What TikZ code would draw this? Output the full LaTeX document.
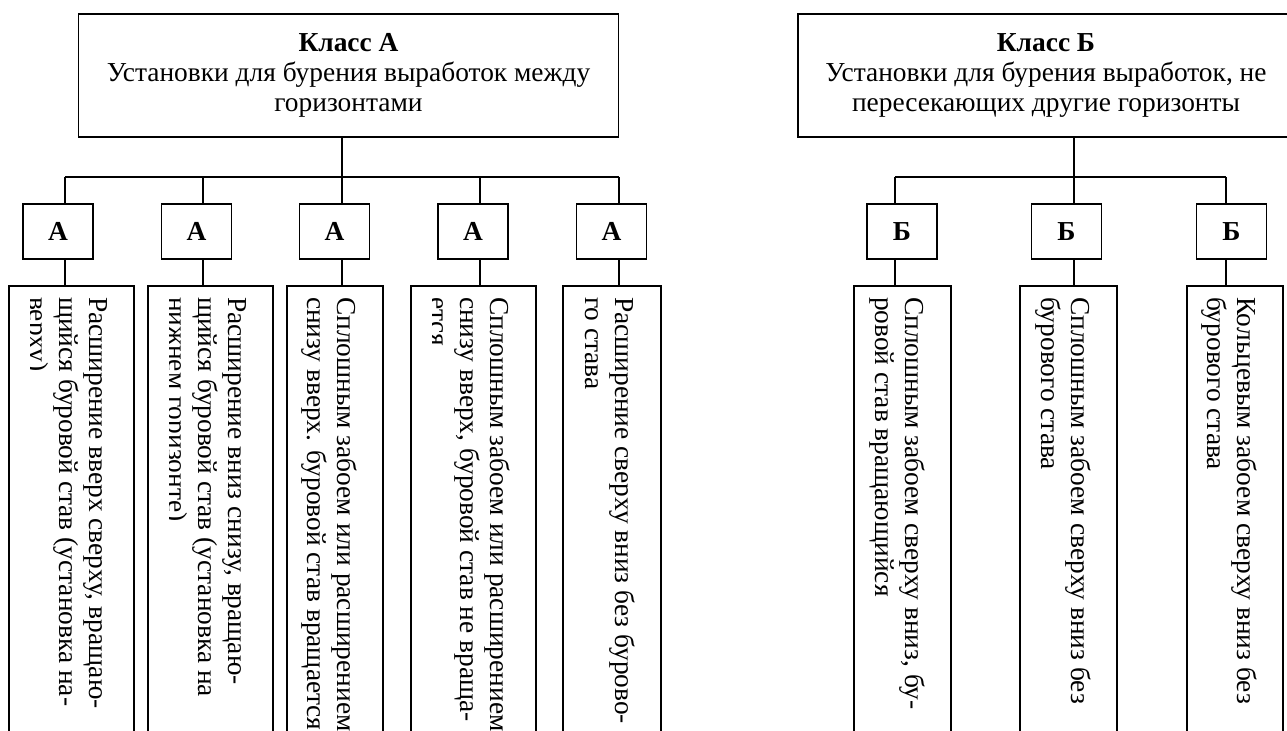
\documentclass[tikz,border=0pt]{standalone}
\usepackage{fontspec}
\setmainfont{Liberation Serif}
\newcommand{\drillfont}{\fontsize{15.6}{17.1}\selectfont}
\tikzset{classbox/.style={draw, line width=0.9pt, align=center, inner sep=0, font=\drillfont}}
\tikzset{subbox/.style={draw, line width=0.9pt, minimum width=1.4cm, minimum height=1.1cm, inner sep=0, font=\drillfont\bfseries}}
\tikzset{tallbox/.style={draw, line width=0.9pt, minimum height=9.6cm, inner sep=0}}
\tikzset{vtext/.style={rotate=-90, anchor=north west, align=left, inner sep=0, font=\drillfont}}
\tikzset{connect/.style={draw, line width=0.9pt}}

\begin{document}
\begin{tikzpicture}
\useasboundingbox (0,0) rectangle (25.74,-14.62);
\clip (0,0) rectangle (25.74,-14.62);

%class blocks
\node[classbox, minimum width=10.8cm, minimum height=2.45cm] (clA) at (6.97,-1.51) {\textbf{Класс А}\\Установки для бурения выработок между\\горизонтами};
\node[classbox, minimum width=9.92cm, minimum height=2.45cm] (clB) at (20.92,-1.51) {\textbf{Класс Б}\\Установки для бурения выработок, не\\пересекающих другие горизонты};

%bus points
\coordinate (a1) at (1.30,-3.54);
\coordinate (a2) at (4.06,-3.54);
\coordinate (a3) at (6.84,-3.54);
\coordinate (a4) at (9.60,-3.54);
\coordinate (a5) at (12.38,-3.54);
\coordinate (b1) at (17.90,-3.54);
\coordinate (b2) at (21.48,-3.54);
\coordinate (b3) at (24.52,-3.54);

%sub blocks
\node[subbox] (A1) at (1.16,-4.63) {А};
\node[subbox] (A2) at (3.93,-4.63) {А};
\node[subbox] (A3) at (6.69,-4.63) {А};
\node[subbox] (A4) at (9.46,-4.63) {А};
\node[subbox] (A5) at (12.23,-4.63) {А};
\node[subbox] (B1) at (18.04,-4.63) {Б};
\node[subbox] (B2) at (21.33,-4.63) {Б};
\node[subbox] (B3) at (24.63,-4.63) {Б};

%tall blocks
\node[tallbox, minimum width=2.5cm] (tA1) at (1.43,-10.52) {};
\node[tallbox, minimum width=2.5cm] (tA2) at (4.21,-10.52) {};
\node[tallbox, minimum width=1.92cm] (tA3) at (6.70,-10.52) {};
\node[tallbox, minimum width=2.5cm] (tA4) at (9.47,-10.52) {};
\node[tallbox, minimum width=1.96cm] (tA5) at (12.24,-10.52) {};
\node[tallbox, minimum width=1.94cm] (tB1) at (18.05,-10.52) {};
\node[tallbox, minimum width=1.94cm] (tB2) at (21.37,-10.52) {};
\node[tallbox, minimum width=1.92cm] (tB3) at (24.70,-10.52) {};

%buses
\path[connect] (clA.south -| a3) -- (a3);
\path[connect] (a1) -- (a5);
\path[connect] (clB.south -| b2) -- (b2);
\path[connect] (b1) -- (b3);

%columns
\path[connect] (a1) -- (a1 |- A1.north) (a1 |- A1.south) -- (a1 |- tA1.north);
\path[connect] (a2) -- (a2 |- A2.north) (a2 |- A2.south) -- (a2 |- tA2.north);
\path[connect] (a3) -- (a3 |- A3.north) (a3 |- A3.south) -- (a3 |- tA3.north);
\path[connect] (a4) -- (a4 |- A4.north) (a4 |- A4.south) -- (a4 |- tA4.north);
\path[connect] (a5) -- (a5 |- A5.north) (a5 |- A5.south) -- (a5 |- tA5.north);
\path[connect] (b1) -- (b1 |- B1.north) (b1 |- B1.south) -- (b1 |- tB1.north);
\path[connect] (b2) -- (b2 |- B2.north) (b2 |- B2.south) -- (b2 |- tB2.north);
\path[connect] (b3) -- (b3 |- B3.north) (b3 |- B3.south) -- (b3 |- tB3.north);

%texts in tall blocks, the long ones cut at the inner margin
\begin{scope}
\clip ([xshift=0.44cm]tA1.south west) rectangle (tA1.north east);
\node[vtext] (xA1) at ([xshift=-0.53cm,yshift=-0.23cm]tA1.north east) {Расширение вверх сверху, вращаю-\\щийся буровой став (установка на-\\верху)};
\end{scope}
\begin{scope}
\clip ([xshift=0.44cm]tA2.south west) rectangle (tA2.north east);
\node[vtext] (xA2) at ([xshift=-0.53cm,yshift=-0.23cm]tA2.north east) {Расширение вниз снизу, вращаю-\\щийся буровой став (установка на\\нижнем горизонте)};
\end{scope}
\node[vtext] (xA3) at ([xshift=-0.53cm,yshift=-0.23cm]tA3.north east) {Сплошным забоем или расширением\\снизу вверх. буровой став вращается};
\begin{scope}
\clip ([xshift=0.44cm]tA4.south west) rectangle (tA4.north east);
\node[vtext] (xA4) at ([xshift=-0.53cm,yshift=-0.23cm]tA4.north east) {Сплошным забоем или расширением\\снизу вверх, буровой став не враща-\\ется};
\end{scope}
\node[vtext] (xA5) at ([xshift=-0.53cm,yshift=-0.23cm]tA5.north east) {Расширение сверху вниз без бурово-\\го става};
\node[vtext] (xB1) at ([xshift=-0.53cm,yshift=-0.23cm]tB1.north east) {Сплошным забоем сверху вниз, бу-\\ровой став вращающийся};
\node[vtext] (xB2) at ([xshift=-0.53cm,yshift=-0.23cm]tB2.north east) {Сплошным забоем сверху вниз без\\бурового става};
\node[vtext] (xB3) at ([xshift=-0.53cm,yshift=-0.23cm]tB3.north east) {Кольцевым забоем сверху вниз без\\бурового става};

\end{tikzpicture}
\end{document}
